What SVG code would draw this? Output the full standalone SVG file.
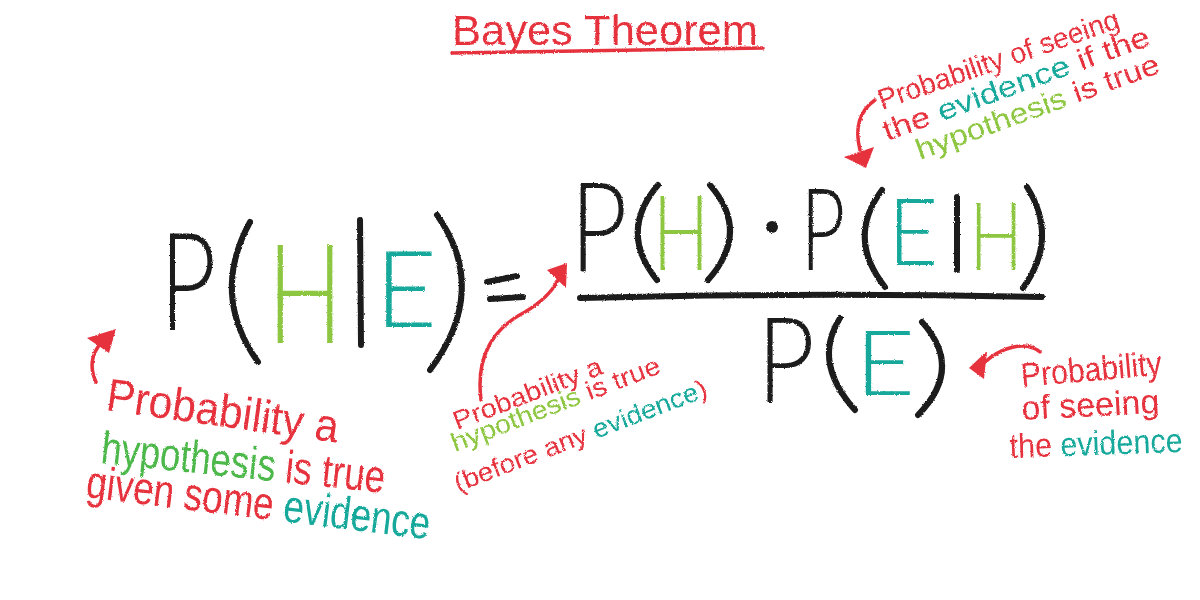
<svg xmlns="http://www.w3.org/2000/svg" width="1200" height="600" viewBox="0 0 1200 600">
<defs>
<filter id="crayon" x="-5%" y="-5%" width="110%" height="110%">
<feTurbulence type="fractalNoise" baseFrequency="0.9" numOctaves="2" seed="3" result="n"/>
<feDisplacementMap in="SourceGraphic" in2="n" scale="2.5" xChannelSelector="R" yChannelSelector="G"/>
</filter>
<style>
.big{font-family:Lato,Inter,"Open Sans",sans-serif;font-weight:300;text-anchor:middle}
.hand{font-family:"Liberation Sans",Arial,sans-serif}
.k{fill:#1c1c1c}
.r{fill:#e6323e}
.g{fill:#8dc63f}
.g2{fill:#4cb84a}
.t{fill:#17a99b}
.stroke{fill:none;stroke:#1c1c1c;stroke-width:6;stroke-linecap:round}
.arrow{fill:none;stroke:#e6323e;stroke-width:3.5;stroke-linecap:round}
.head{fill:#e6323e}
</style>
</defs>
<rect width="1200" height="600" fill="#ffffff"/>
<g filter="url(#crayon)">
<g id="title">
<text class="hand r" x="452" y="45" font-size="43" textLength="306" lengthAdjust="spacingAndGlyphs">Bayes Theorem</text>
<path d="M452,53 Q600,50 763,48" fill="none" stroke="#e6323e" stroke-width="3.5" stroke-linecap="round"/>
</g>
<g id="lhs">
<g transform="translate(188,330) scale(0.72,1)"><text class="big k" font-size="136">P</text></g>
<path class="stroke" d="M250,222 Q210,295 258,362"/>
<g transform="translate(305,343) scale(0.72,1)"><text class="big g" font-size="139">H</text></g>
<path class="stroke" d="M360,220 L361,345"/>
<g transform="translate(406,327) scale(1,1)"><text class="big t" font-size="107">E</text></g>
<path class="stroke" d="M437,215 Q490,290 430,370"/>
</g>
<g id="equals">
<path class="stroke" d="M487,282 L517,276 M490,299 L523,297"/>
</g>
<g id="numerator">
<g transform="translate(599,272) scale(0.8,1)"><text class="big k" font-size="124">P</text></g>
<path class="stroke" d="M658,185 Q618,232 657,280"/>
<g transform="translate(681,270) scale(0.72,1)"><text class="big g" font-size="104">H</text></g>
<path class="stroke" d="M710,185 Q751,232 708,280"/>
<circle cx="772" cy="227" r="6" fill="#1c1c1c"/>
<g transform="translate(823,270) scale(0.67,1)"><text class="big k" font-size="115">P</text></g>
<path class="stroke" d="M882,190 Q846,238 885,287"/>
<g transform="translate(913,265) scale(0.93,1)"><text class="big t" font-size="93">E</text></g>
<path class="stroke" d="M957,197 L957,270"/>
<g transform="translate(996,270) scale(0.75,1)"><text class="big g" font-size="94">H</text></g>
<path class="stroke" d="M1027,187 Q1059,238 1023,288"/>
</g>
<g id="fraction-line">
<path class="stroke" d="M580,298 Q810,292 1042,297"/>
</g>
<g id="denominator">
<g transform="translate(786,402) scale(0.85,1)"><text class="big k" font-size="118">P</text></g>
<path class="stroke" d="M840,318 Q812,362 855,410"/>
<g transform="translate(885,395) scale(1.15,1)"><text class="big t" font-size="90">E</text></g>
<path class="stroke" d="M922,322 Q964,368 918,415"/>
</g>
<g id="connectors">
<path class="arrow" d="M481,400 C476,360 490,330 525,312 C545,300 553,290 558,280"/>
<polygon class="head" points="567,263 547,270 566,288"/>
<path class="arrow" d="M96,382 C88,365 93,350 104,340"/>
<polygon class="head" points="87,338 116,329 109,353"/>
<path class="arrow" d="M875,100 C858,112 855,130 860,150"/>
<polygon class="head" points="844,157 874,147 866,168"/>
<path class="arrow" d="M1040,352 C1025,340 1000,348 985,362"/>
<polygon class="head" points="969,368 987,351 984,379"/>
</g>
<g id="note-posterior">
<text class="hand r" x="105" y="410" font-size="46" textLength="234" lengthAdjust="spacingAndGlyphs" transform="rotate(8,105,410)">Probability a</text>
<text class="hand" x="100" y="463" font-size="46" textLength="285" lengthAdjust="spacingAndGlyphs" transform="rotate(6,100,463)"><tspan class="g2">hypothesis</tspan><tspan class="r"> is true</tspan></text>
<text class="hand" x="85" y="497" font-size="46" textLength="346" lengthAdjust="spacingAndGlyphs" transform="rotate(7,85,497)"><tspan class="r">given some </tspan><tspan class="t">evidence</tspan></text>
</g>
<g id="note-prior">
<text class="hand r" x="457" y="430" font-size="26" textLength="158" lengthAdjust="spacingAndGlyphs" transform="rotate(-21,457,430)">Probability a</text>
<text class="hand" x="455" y="452" font-size="26" textLength="222" lengthAdjust="spacingAndGlyphs" transform="rotate(-21,455,452)"><tspan class="g">hypothesis</tspan><tspan class="r"> is true</tspan></text>
<text class="hand" x="458" y="492" font-size="26" textLength="269" lengthAdjust="spacingAndGlyphs" transform="rotate(-21,458,492)"><tspan class="r">(before any </tspan><tspan class="t">evidence</tspan><tspan class="r">)</tspan></text>
</g>
<g id="note-likelihood">
<text class="hand r" x="882" y="110" font-size="29" textLength="253" lengthAdjust="spacingAndGlyphs" transform="rotate(-19,882,110)">Probability of seeing</text>
<text class="hand" x="887" y="141" font-size="29" textLength="282" lengthAdjust="spacingAndGlyphs" transform="rotate(-20,887,141)"><tspan class="r">the </tspan><tspan class="t">evidence</tspan><tspan class="r"> if the</tspan></text>
<text class="hand" x="920" y="160" font-size="29" textLength="257" lengthAdjust="spacingAndGlyphs" transform="rotate(-20,920,160)"><tspan class="g">hypothesis</tspan><tspan class="r"> is true</tspan></text>
</g>
<g id="note-evidence">
<text class="hand r" x="1022" y="387" font-size="34" textLength="141" lengthAdjust="spacingAndGlyphs" transform="rotate(-5,1022,387)">Probability</text>
<text class="hand r" x="1022" y="420" font-size="34" textLength="138" lengthAdjust="spacingAndGlyphs" transform="rotate(-3,1022,420)">of seeing</text>
<text class="hand" x="1010" y="458" font-size="34" textLength="173" lengthAdjust="spacingAndGlyphs" transform="rotate(-2,1010,458)"><tspan class="r">the </tspan><tspan class="t">evidence</tspan></text>
</g>
</g>
</svg>
